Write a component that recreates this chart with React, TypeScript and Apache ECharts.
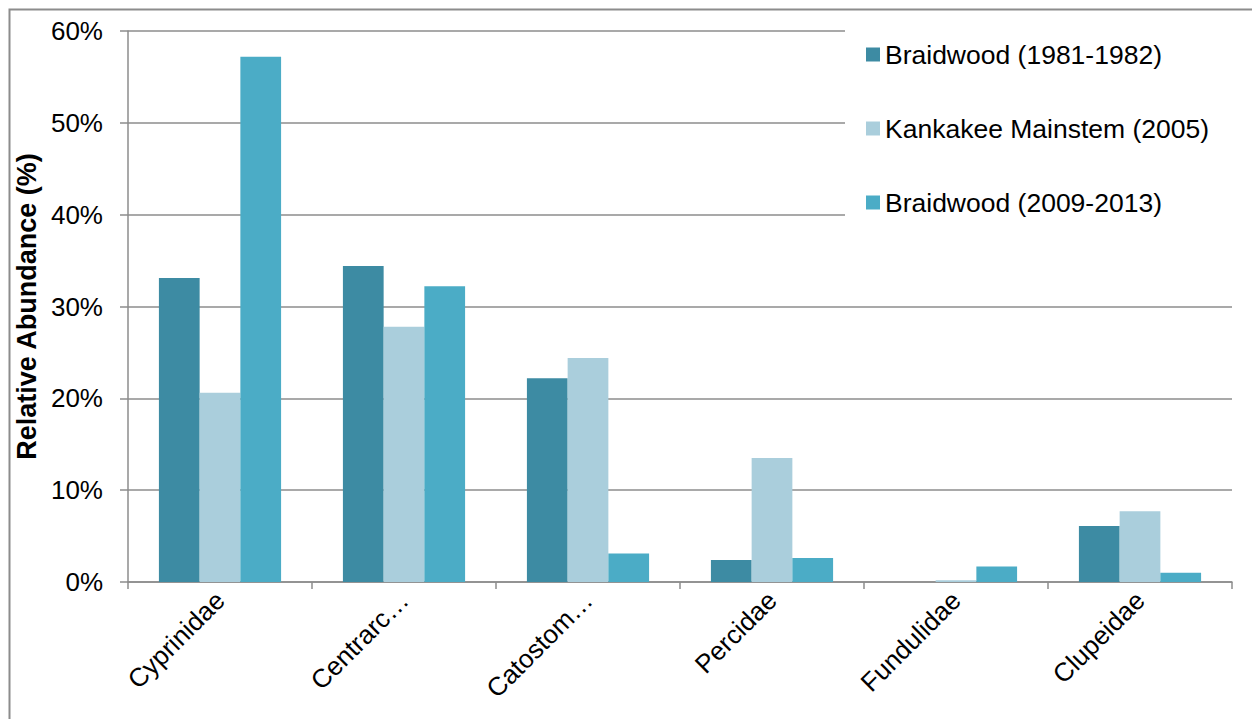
import React, { useEffect, useRef } from "react";
import * as echarts from "echarts";

const categories = ["Cyprinidae", "Centrarc…", "Catostom…", "Percidae", "Fundulidae", "Clupeidae"];
const braidwood1981 = [33.1, 34.4, 22.2, 2.4, 0, 6.1];
const kankakee2005 = [20.6, 27.8, 24.4, 13.5, 0.2, 7.7];
const braidwood2009 = [57.2, 32.2, 3.1, 2.6, 1.7, 1.0];
const seriesNames = ["Braidwood (1981-1982)", "Kankakee Mainstem (2005)", "Braidwood (2009-2013)"];
const seriesColors = ["#3D8BA3", "#AACEDC", "#4BACC6"];
const yMin = 0;
const yMax = 60;
const yInterval = 10;

const FONT = "'Liberation Sans', Arial, Helvetica, sans-serif";
const GRAY = "#8c8c8c";

export default function App() {
  const ref = useRef<HTMLDivElement>(null);
  useEffect(() => {
    if (!ref.current) return;
    const chart = echarts.init(ref.current, null, { renderer: "svg" });
    const values = [braidwood1981, kankakee2005, braidwood2009];
    chart.setOption({
      animation: false,
      backgroundColor: "#ffffff",
      textStyle: { fontFamily: FONT, color: "#000" },
      grid: { left: 128, right: 20, top: 31, bottom: 137, containLabel: false },
      legend: {
        orient: "vertical",
        left: 845,
        top: 24,
        padding: [17, 60, 17, 21],
        backgroundColor: "#ffffff",
        itemWidth: 14,
        itemHeight: 14,
        itemGap: 47,
        icon: "rect",
        textStyle: { fontFamily: FONT, fontSize: 26.5, color: "#000" },
        data: seriesNames,
      },
      xAxis: {
        type: "category",
        data: categories,
        axisLine: { show: true, lineStyle: { color: GRAY, width: 1.5 } },
        axisTick: { show: true, length: 7, lineStyle: { color: GRAY, width: 1.5 } },
        axisLabel: {
          rotate: 45,
          margin: 14,
          interval: 0,
          fontFamily: FONT,
          fontSize: 26,
          color: "#000",
        },
      },
      yAxis: {
        type: "value",
        min: yMin,
        max: yMax,
        interval: yInterval,
        name: "Relative Abundance (%)",
        nameLocation: "middle",
        nameGap: 85,
        nameRotate: 90,
        nameTextStyle: { fontFamily: FONT, fontSize: 27, fontWeight: "bold", color: "#000" },
        axisLine: { show: true, lineStyle: { color: GRAY, width: 1.5 } },
        axisTick: { show: true, length: 8, inside: false, lineStyle: { color: GRAY, width: 1.5 } },
        axisLabel: {
          margin: 25,
          fontFamily: FONT,
          fontSize: 26,
          color: "#000",
          formatter: (v: number) => `${v}%`,
        },
        splitLine: { show: true, lineStyle: { color: GRAY, width: 1.5 } },
      },
      graphic: [
        {
          type: "rect",
          left: 7,
          top: 7,
          shape: { x: 0, y: 0, width: 1300, height: 800 },
          style: { fill: "none", stroke: GRAY, lineWidth: 2 },
          silent: true,
          z: -1,
        },
      ],
      series: seriesNames.map((name, i) => ({
        name,
        type: "bar",
        data: values[i],
        barGap: "0%",
        barCategoryGap: "33.6%",
        itemStyle: { color: seriesColors[i] },
      })),
    });
    return () => chart.dispose();
  }, []);
  return (
    <div
      ref={ref}
      style={{ position: "absolute", left: 0, top: 0, width: 1252, height: 719 }}
    />
  );
}
